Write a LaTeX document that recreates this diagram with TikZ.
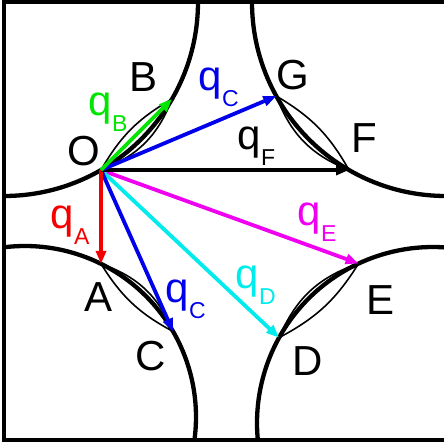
\documentclass[tikz,border=0pt]{standalone}
\usepackage{fontspec}
\setmainfont{Liberation Sans}
\usetikzlibrary{arrows.meta,calc}
\definecolor{qgreen}{RGB}{0,230,0}
\definecolor{qblue}{RGB}{0,0,235}
\definecolor{qred}{RGB}{245,0,0}
\definecolor{qcyan}{RGB}{0,235,235}
\definecolor{qmag}{RGB}{240,0,240}
\newcommand{\qsub}[1]{q\raisebox{-16pt}{\fontsize{23}{23}\selectfont #1}}
\begin{document}
\begin{tikzpicture}[x=1pt,y=1pt,
  frame/.style={line width=4.5pt,black},
  fermi/.style={line width=4.3pt,black},
  lens/.style={line width=1.6pt,black},
  qarrow/.style={line width=3.8pt,-{Triangle[length=13pt,width=10pt]}},
  ptlab/.style={inner sep=0pt,anchor=base,font=\fontsize{42}{42}\selectfont},
  qlab/.style={inner sep=0pt,anchor=base west,font=\fontsize{42}{42}\selectfont}]
\useasboundingbox (0,0) rectangle (444,447);
\fill[white] (0,0) rectangle (444,447);
% corners / centres
\coordinate (cTL) at (4,445);
\coordinate (cTR) at (446,445);
\coordinate (cBL) at (25,30);
\coordinate (cBR) at (433,24);
% points on the contours
\coordinate (O) at ($(cTL)+(-60:194)$);
\coordinate (B) at ($(cTL)+(-30:194)$);
\coordinate (G) at ($(cTR)+(-151:194)$);
\coordinate (F) at ($(cTR)+(-120:194)$);
\coordinate (A) at ($(cBL)+(63.6:171)$);
\coordinate (C) at ($(cBL)+(30:171)$);
\coordinate (E) at ($(cBR)+(115:176)$);
\coordinate (D) at ($(cBR)+(151:176)$);
% frame
\draw[frame] (448,445) -- (4,445) -- (4,7) -- (448,7);
% contours
\draw[fermi] ($(cTL)+(0:194)$) arc[start angle=0,end angle=-90,radius=194];
\draw[fermi] ($(cTR)+(180:194)$) arc[start angle=180,end angle=270,radius=194];
\draw[fermi] ($(cBL)+(97:171)$) arc[start angle=97,end angle=-7.7,radius=171];
\draw[fermi] ($(cBR)+(85.8:176)$) arc[start angle=85.8,end angle=185.5,radius=176];
% lenses
\draw[lens] (O) to[bend left=15] (B);
\draw[lens] (O) to[bend right=24] (B);
\draw[lens] (G) to[bend left=15] (F);
\draw[lens] (G) to[bend right=24] (F);
\draw[lens] (A) to[bend right=15] (C);
\draw[lens] (A) to[bend left=24] (C);
\draw[lens] (D) to[bend right=15] (E);
\draw[lens] (D) to[bend left=24] (E);
% vectors
\draw[qarrow,qmag] (O) -- (E);
\draw[qarrow,qcyan] (O) -- (D);
\draw[qarrow,qblue] (O) -- (C);
\draw[qarrow,qred] (O) -- (A);
\draw[qarrow,black] (O) -- (F);
\draw[qarrow,qblue] (O) -- (G);
\draw[qarrow,qgreen] (O) -- (B);
% point labels
\node[ptlab] (lO) at (84,281) {O};
\node[ptlab] (lB) at (144,355) {B};
\node[ptlab] (lG) at (293,357) {G};
\node[ptlab] (lF) at (364,294) {F};
\node[ptlab] (lA) at (99,135) {A};
\node[ptlab] (lC) at (151,76) {C};
\node[ptlab] (lD) at (308,71) {D};
\node[ptlab] (lE) at (381,132) {E};
% vector labels
\node[qlab,text=qgreen] (lqB) at (88.5,331) {\qsub{B}};
\node[qlab,text=qblue] (lqC1) at (198.5,356) {\qsub{C}};
\node[qlab,text=black] (lqF) at (237.5,297) {\qsub{F}};
\node[qlab,text=qred] (lqA) at (50.5,218) {\qsub{A}};
\node[qlab,text=qblue] (lqC2) at (165.5,144) {\qsub{C}};
\node[qlab,text=qcyan] (lqD) at (235.5,158) {\qsub{D}};
\node[qlab,text=qmag] (lqE) at (297.5,221) {\qsub{E}};
\end{tikzpicture}
\end{document}
